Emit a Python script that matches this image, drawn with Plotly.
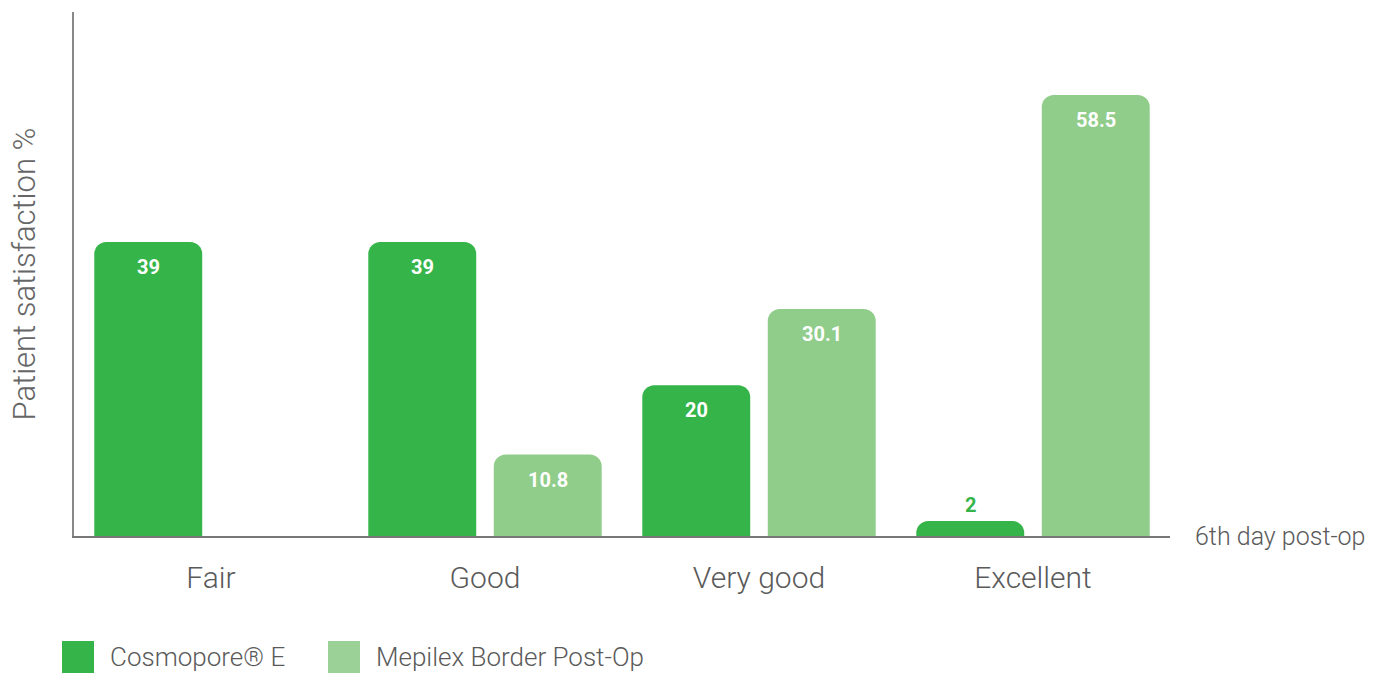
import plotly.graph_objects as go

categories = ["Fair", "Good", "Very good", "Excellent"]
series_names = ["Cosmopore® E", "Mepilex Border Post-Op"]
cosmopore = [39, 39, 20, 2]
mepilex = [None, 10.8, 30.1, 58.5]
colors = ["#35b44a", "#90cc8a"]
legend_colors = ["#35b44a", "#9bd196"]

W, H = 1389, 673
ML, MR, MT, MB = 74, 219, 12, 137
BARGAP = 0.084
BARGROUPGAP = 0.14
YMAX = 69.5

fig = go.Figure()
for name, vals, col in zip(series_names, [cosmopore, mepilex], colors):
    fig.add_trace(go.Bar(x=categories, y=vals, name=name, marker_color=col,
                         marker_line_width=0, showlegend=False, hoverinfo="skip"))

# value labels
plot_w = W - ML - MR
plot_h = H - MT - MB
slot = plot_w / len(categories) * (1 - BARGAP) / 2
for i, vals in enumerate([cosmopore, mepilex]):
    for c, v in zip(categories, vals):
        if v is None:
            continue
        inside = v / YMAX * plot_h > 40
        fig.add_annotation(x=c, y=v, xref="x", yref="y", showarrow=False,
                           text=f"<b>{v:g}</b>", xshift=(i - 0.5) * slot,
                           yshift=-25 if inside else 16,
                           font=dict(family="Roboto", size=20,
                                     color="white" if inside else colors[i]))

fig.add_annotation(x=1, y=0, xref="paper", yref="paper", xanchor="left", yanchor="middle",
                   xshift=23, text="6th day post-op", showarrow=False,
                   font=dict(family="Roboto", size=25, color="#5a5a5a", weight=300))

# custom legend
leg_x = [62, 328]
for px, name, col in zip(leg_x, series_names, legend_colors):
    x0 = (px - ML) / plot_w
    x1 = (px + 32 - ML) / plot_w
    y0 = (H - MB - 641) / plot_h
    y1 = (H - MB - 673) / plot_h
    fig.add_shape(type="rect", xref="paper", yref="paper", x0=x0, x1=x1, y0=y1, y1=y0,
                  fillcolor=col, line_width=0)
    fig.add_annotation(x=(px + 46 - ML) / plot_w, y=(H - MB - 657) / plot_h,
                       xref="paper", yref="paper", xanchor="left", yanchor="middle",
                       showarrow=False, text=name,
                       font=dict(family="Roboto", size=26, color="#5a5a5a", weight=300))

fig.update_layout(
    width=W, height=H, barmode="group", bargap=BARGAP, bargroupgap=BARGROUPGAP,
    barcornerradius=12,
    margin=dict(l=ML, r=MR, t=MT, b=MB),
    plot_bgcolor="white", paper_bgcolor="white",
    font=dict(family="Roboto", color="#5a5a5a"),
    xaxis=dict(showline=True, linecolor="#777777", linewidth=1.5, ticks="outside",
               ticklen=14, tickcolor="rgba(0,0,0,0)",
               tickfont=dict(family="Roboto", size=30, color="#5a5a5a", weight=300)),
    yaxis=dict(range=[0, YMAX], showline=True, linecolor="#888888", linewidth=1.5,
               showgrid=False, zeroline=False, showticklabels=False, ticks="",
               title=dict(text="Patient satisfaction %", standoff=27,
                          font=dict(family="Roboto", size=31, color="#666666", weight=300))),
)

fig.write_html("out.html", post_script="document.body.style.margin='0';",
               config={"displayModeBar": False})
